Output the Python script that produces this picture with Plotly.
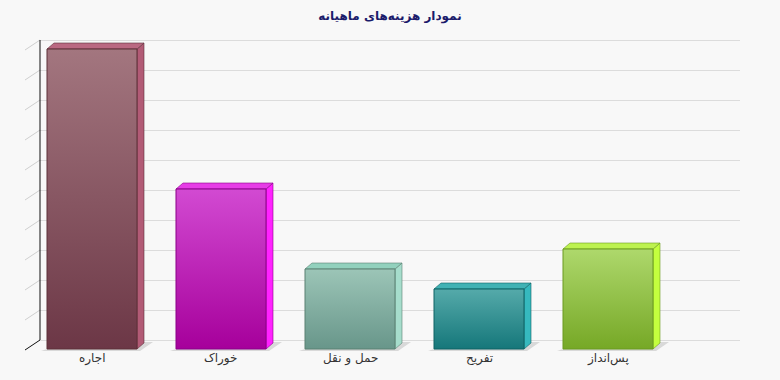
import plotly.graph_objects as go

# ---------------- data ----------------
categories = ["اجاره", "خوراک", "حمل و نقل", "تفریح", "پس‌انداز"]
values = [3000, 1600, 800, 600, 1000]
grid_ticks = [0, 300, 600, 900, 1200, 1500, 1800, 2100, 2400, 2700, 3000]
title_text = "نمودار هزینه‌های ماهیانه"

# colours per bar: (front top, front bottom, side, top face, edge)
front_light = ["#a3767f", "#d24ad2", "#9cc5b7", "#55aaaa", "#aed86c"]
front_dark = ["#6c3746", "#a6009b", "#68968a", "#15777a", "#76a826"]
side_colors = ["#b25b76", "#ff22ff", "#a6ddcc", "#36b9be", "#c4ff3e"]
top_colors = ["#ba6982", "#e63ce6", "#92d1bd", "#41b2b4", "#bdf24f"]
edge_colors = ["#5c3039", "#8a0088", "#5a8072", "#0f6264", "#6b9a20"]

# ---------------- geometry (layout) ----------------
W, H = 780, 380
BACK_L, BACK_R, BACK_T, BACK_B = 40, 740, 40, 340     # back plane in px
FIRST_CENTER, SPACING, BAR_W_PX = 92, 129, 90        # front faces in px
DEPTH_X_PX, DEPTH_Y_PX = 7, 6                        # bar depth
FRONT_DROP_PX = 9                                    # front faces lower than back
WALL_X_PX, WALL_Y_PX = 15, 10                        # wall/floor depth
VAL_PER_PX = (grid_ticks[-1] - grid_ticks[0]) / (BACK_B - BACK_T)
PAD_PX = 4                                           # keep edge gridlines drawn


def px_x(px):
    return (px - FIRST_CENTER) / SPACING


bw = BAR_W_PX / SPACING
ddx = DEPTH_X_PX / SPACING
ddy = DEPTH_Y_PX * VAL_PER_PX
base = -FRONT_DROP_PX * VAL_PER_PX

fig = go.Figure()

# invisible trace to hold the gridline subplot
fig.add_trace(go.Scatter(x=[None], y=[None], xaxis="x", yaxis="y",
                         showlegend=False, hoverinfo="skip"))

# wall ticks (continuations of the gridlines on the left wall)
wall_x = px_x(BACK_L)
gx, gy = [], []
for t in grid_ticks[1:]:
    gx += [wall_x, wall_x - WALL_X_PX / SPACING, None]
    gy += [t, t - WALL_Y_PX * VAL_PER_PX, None]
fig.add_trace(go.Scatter(x=gx, y=gy, mode="lines", xaxis="x2", yaxis="y2",
                         line=dict(color="#cfcfcf", width=1),
                         showlegend=False, hoverinfo="skip"))
# left wall edge + floor edge
fig.add_trace(go.Scatter(x=[wall_x, wall_x, wall_x - WALL_X_PX / SPACING],
                         y=[grid_ticks[-1], grid_ticks[0],
                            grid_ticks[0] - WALL_Y_PX * VAL_PER_PX],
                         mode="lines", xaxis="x2", yaxis="y2",
                         line=dict(color="#111111", width=1),
                         showlegend=False, hoverinfo="skip"))

for i, (cat, v) in enumerate(zip(categories, values)):
    L, R = i - bw / 2, i + bw / 2
    top = base + v
    # floor shadow
    fig.add_trace(go.Scatter(
        x=[L - 6 / SPACING, R + 3 / SPACING, R + ddx + 9 / SPACING, R + ddx, R, L],
        y=[base - 20, base - 20, base + ddy + 10, base + ddy + 10, base, base],
        fill="toself", mode="none", fillcolor="#d9d9d9",
        xaxis="x2", yaxis="y2", showlegend=False, hoverinfo="skip"))
    # side face
    fig.add_trace(go.Scatter(
        x=[R, R + ddx, R + ddx, R, R], y=[base, base + ddy, top + ddy, top, base],
        fill="toself", mode="lines", fillcolor=side_colors[i],
        line=dict(color=edge_colors[i], width=0.6),
        xaxis="x2", yaxis="y2", showlegend=False, hoverinfo="skip"))
    # top face
    fig.add_trace(go.Scatter(
        x=[L, R, R + ddx, L + ddx, L], y=[top, top, top + ddy, top + ddy, top],
        fill="toself", mode="lines", fillcolor=top_colors[i],
        line=dict(color=edge_colors[i], width=0.6),
        xaxis="x2", yaxis="y2", showlegend=False, hoverinfo="skip"))
    # front face with vertical gradient
    fig.add_trace(go.Scatter(
        x=[L, R, R, L, L], y=[base, base, top, top, base],
        fill="toself", mode="lines",
        fillgradient=dict(type="vertical",
                          colorscale=[[0, front_dark[i]], [1, front_light[i]]]),
        line=dict(color=edge_colors[i], width=1),
        xaxis="x2", yaxis="y2", showlegend=False,
        name=cat, hovertemplate=cat + ": %{customdata}<extra></extra>",
        customdata=[v] * 5))
    fig.add_annotation(x=i, xref="x2", y=1 - 358 / H, yref="paper",
                       text=cat, showarrow=False, yanchor="middle",
                       font=dict(family="DejaVu Sans", size=12, color="#333333"))

fig.update_layout(
    width=W, height=H,
    margin=dict(l=0, r=0, t=0, b=0),
    paper_bgcolor="#f8f8f8", plot_bgcolor="rgba(0,0,0,0)",
    showlegend=False,
    title=dict(text="<b>" + title_text + "</b>", x=0.5, xref="paper",
               y=1 - 16 / H, yref="paper", xanchor="center", yanchor="middle",
               font=dict(family="DejaVu Sans", size=12, color="#1b1b6b")),
    xaxis=dict(domain=[BACK_L / W, BACK_R / W], range=[0, 1], anchor="y",
               showgrid=False, zeroline=False, showticklabels=False,
               showline=False, fixedrange=True),
    yaxis=dict(domain=[1 - (BACK_B + PAD_PX) / H, 1 - (BACK_T - PAD_PX) / H],
               range=[grid_ticks[0] - PAD_PX * VAL_PER_PX,
                      grid_ticks[-1] + PAD_PX * VAL_PER_PX], anchor="x",
               tickmode="array", tickvals=grid_ticks,
               showgrid=True, gridcolor="#dcdcdc", gridwidth=1,
               zeroline=False, showticklabels=False, ticks="",
               showline=False, fixedrange=True),
    xaxis2=dict(domain=[0, 1], range=[px_x(0), px_x(W)], anchor="y2",
                visible=False, fixedrange=True),
    yaxis2=dict(domain=[0, 1],
                range=[-(H - BACK_B) * VAL_PER_PX, BACK_B * VAL_PER_PX],
                anchor="x2", visible=False, fixedrange=True),
)

fig.write_html("out.html")
